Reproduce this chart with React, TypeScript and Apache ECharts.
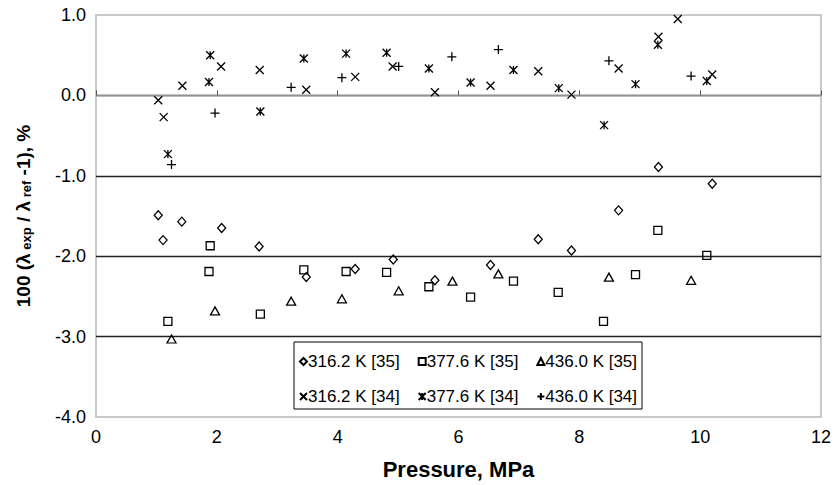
import React, { useEffect, useRef } from "react";
import * as echarts from "echarts";

// Pressure (MPa) and deviation (%) for each data set
const p316_35 = [1.03, 1.11, 1.42, 2.08, 2.70, 3.48, 4.29, 4.92, 5.61, 6.53, 7.32, 7.87, 8.65, 9.31, 10.20];
const d316_35 = [-1.49, -1.80, -1.57, -1.65, -1.88, -2.26, -2.16, -2.04, -2.30, -2.11, -1.79, -1.93, -1.43, -0.89, -1.10];

const p377_35 = [1.19, 1.87, 1.89, 2.72, 3.44, 4.14, 4.81, 5.51, 6.20, 6.91, 7.65, 8.40, 8.93, 9.30, 10.11];
const d377_35 = [-2.81, -2.19, -1.87, -2.72, -2.17, -2.19, -2.20, -2.38, -2.51, -2.31, -2.45, -2.81, -2.23, -1.68, -1.99];

const p436_35 = [1.25, 1.97, 3.23, 4.07, 5.01, 5.90, 6.66, 8.49, 9.85];
const d436_35 = [-3.03, -2.68, -2.56, -2.53, -2.43, -2.31, -2.22, -2.26, -2.30];

const p316_34 = [1.03, 1.12, 1.43, 2.07, 2.71, 3.48, 4.29, 4.91, 5.61, 6.53, 7.32, 7.87, 8.65, 9.31, 9.63, 10.20];
const d316_34 = [-0.06, -0.27, 0.12, 0.36, 0.315, 0.07, 0.23, 0.36, 0.04, 0.12, 0.30, 0.01, 0.335, 0.73, 0.95, 0.26];

const p377_34 = [1.19, 1.87, 1.89, 2.72, 3.44, 4.14, 4.81, 5.51, 6.20, 6.91, 7.66, 8.41, 8.93, 9.30, 10.11];
const d377_34 = [-0.73, 0.166, 0.50, -0.20, 0.46, 0.52, 0.53, 0.335, 0.16, 0.315, 0.09, -0.37, 0.14, 0.63, 0.18];

const p436_34 = [1.25, 1.97, 3.23, 4.07, 5.01, 5.89, 6.66, 8.49, 9.85];
const d436_34 = [-0.86, -0.22, 0.10, 0.22, 0.36, 0.48, 0.57, 0.43, 0.24];

const seriesNames = [
  "316.2 K [35]",
  "377.6 K [35]",
  "436.0 K [35]",
  "316.2 K [34]",
  "377.6 K [34]",
  "436.0 K [34]",
];

const xMin = 0;
const xMax = 12;
const xStep = 2;
const yMin = -4;
const yMax = 1;
const yStep = 1;

const FONT = "'Liberation Sans', Arial, sans-serif";

const zip = (xs: number[], ys: number[]) => xs.map((x, i) => [x, ys[i]]);

export default function App() {
  const ref = useRef<HTMLDivElement>(null);

  useEffect(() => {
    if (!ref.current) return;
    const chart = echarts.init(ref.current, null, { renderer: "svg" });

    const symbols = [
      { symbol: "diamond", size: [8, 9] },
      { symbol: "rect", size: 8 },
      { symbol: "triangle", size: [9, 8] },
      { symbol: "path://M0 0 L10 10 M10 0 L0 10", size: 8 },
      { symbol: "path://M0 0 L10 10 M10 0 L0 10 M5 0 L5 10", size: 8 },
      { symbol: "path://M5 0 L5 10 M0 5 L10 5", size: 9 },
    ];
    const datasets = [
      zip(p316_35, d316_35),
      zip(p377_35, d377_35),
      zip(p436_35, d436_35),
      zip(p316_34, d316_34),
      zip(p377_34, d377_34),
      zip(p436_34, d436_34),
    ];

    const series = seriesNames.map((name, i) => ({
      name,
      type: "scatter",
      data: datasets[i],
      symbol: symbols[i].symbol,
      symbolSize: symbols[i].size,
      clip: false,
      z: 2,
      itemStyle: {
        color: "transparent",
        borderColor: "#000",
        borderWidth: 1.3,
        opacity: 1,
      },
      emphasis: { disabled: true },
    }));

    chart.setOption({
      animation: false,
      backgroundColor: "#fff",
      grid: {
        left: 96,
        right: 9,
        top: 15,
        bottom: 66,
        show: true,
        borderColor: "#b8b8b8",
        borderWidth: 1.5,
        backgroundColor: "transparent",
      },
      graphic: [
        {
          type: "rect",
          z: 3,
          shape: { x: 294, y: 342, width: 348, height: 67 },
          style: { fill: "#fff", stroke: "#000", lineWidth: 1 },
          silent: true,
        },
      ],
      legend: {
        data: seriesNames,
        left: 299,
        top: 353,
        width: 380,
        orient: "horizontal",
        padding: 0,
        itemWidth: 7,
        itemHeight: 7,
        itemGap: 18,
        z: 5,
        borderWidth: 0,
        backgroundColor: "transparent",
        selectedMode: false,
        textStyle: {
          fontFamily: FONT,
          fontSize: 17,
          color: "#000",
          lineHeight: 17,
          padding: [0, 0, 0, -4],
        },
      },
      xAxis: {
        type: "value",
        min: xMin,
        max: xMax,
        interval: xStep,
        name: "Pressure, MPa",
        nameLocation: "middle",
        nameGap: 41,
        nameTextStyle: {
          fontFamily: FONT,
          fontSize: 22,
          fontWeight: "bold",
          color: "#000",
        },
        axisLine: { show: true, lineStyle: { color: "#b8b8b8", width: 1.5 } },
        axisTick: { show: true, inside: true, length: 5, lineStyle: { color: "#555" } },
        axisLabel: {
          fontFamily: FONT,
          fontSize: 18,
          color: "#000",
          margin: 11,
        },
        splitLine: { show: false },
      },
      yAxis: {
        type: "value",
        min: yMin,
        max: yMax,
        interval: yStep,
        name: "100 (λ{s| exp} / λ{s| ref} -1), %",
        nameLocation: "middle",
        nameGap: 63,
        nameRotate: 90,
        nameTextStyle: {
          fontFamily: FONT,
          fontSize: 19,
          fontWeight: "bold",
          color: "#000",
          rich: {
            s: {
              fontFamily: FONT,
              fontSize: 13,
              fontWeight: "bold",
              color: "#000",
              verticalAlign: "bottom",
              padding: [6, 0, 0, 0],
            },
          },
        },
        axisLine: { show: false },
        axisTick: { show: false },
        axisLabel: {
          fontFamily: FONT,
          fontSize: 18,
          color: "#000",
          margin: 10,
          formatter: (v: number) => v.toFixed(1),
        },
        splitLine: {
          show: true,
          showMinLine: false,
          showMaxLine: false,
          lineStyle: { color: "#222", width: 1.3 },
        },
      },
      series,
    });

    return () => {
      chart.dispose();
    };
  }, []);

  return (
    <div
      ref={ref}
      style={{ position: "fixed", left: 0, top: 0, width: 834, height: 485, background: "#fff" }}
    />
  );
}
